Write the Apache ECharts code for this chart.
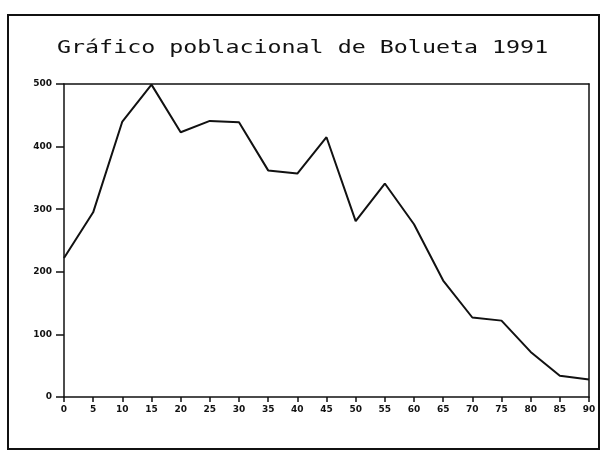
<!DOCTYPE html>
<html><head><meta charset="utf-8">
<script src="https://cdn.jsdelivr.net/npm/echarts@6/dist/echarts.min.js"></script>
<style>html,body{margin:0;padding:0;background:#fff}#c{width:603px;height:456px}</style>
</head><body><div id="c"></div>
<script>
var ages = ['0','5','10','15','20','25','30','35','40','45','50','55','60','65','70','75','80','85','90'];
var population = [222, 295, 440, 499, 423, 441, 439, 362, 357, 415, 281, 341, 276, 186, 127, 122, 72, 34, 28];
var yTicks = [0, 100, 200, 300, 400, 500];
var title = 'Gráfico poblacional de Bolueta 1991';

var chart = echarts.init(document.getElementById('c'), null, {renderer: 'canvas'});
var axisLabelStyle = {color: '#111', fontSize: 9, fontWeight: 'bold', fontFamily: 'DejaVu Sans'};
chart.setOption({
  backgroundColor: '#fff',
  animation: false,
  graphic: [{
    type: 'rect', shape: {x: 8, y: 15, width: 591, height: 434},
    style: {fill: 'none', stroke: '#111', lineWidth: 2}, silent: true
  }, {
    type: 'text', x: 57, y: 57, scaleX: 1.295,
    style: {text: title, fontFamily: 'DejaVu Sans Mono', fontSize: 18, fill: '#111',
            textVerticalAlign: 'bottom', verticalAlign: 'bottom'},
    silent: true
  }],
  grid: {left: 64, right: 14, top: 84, bottom: 59},
  xAxis: [{
    type: 'category', data: ages, boundaryGap: false,
    axisLine: {lineStyle: {color: '#111', width: 1.5}},
    axisTick: {alignWithLabel: true, length: 5, lineStyle: {color: '#111', width: 1.5}},
    axisLabel: Object.assign({margin: 8, interval: 0}, axisLabelStyle)
  }, {
    type: 'category', data: ages, boundaryGap: false, position: 'top',
    axisLine: {show: true, onZero: false, lineStyle: {color: '#111', width: 1.5}},
    axisTick: {show: false}, axisLabel: {show: false}
  }],
  yAxis: [{
    type: 'value', min: yTicks[0], max: yTicks[yTicks.length - 1], interval: 100,
    axisLine: {show: true, lineStyle: {color: '#111', width: 1.5}},
    axisTick: {show: true, length: 8, lineStyle: {color: '#111', width: 1.5}},
    axisLabel: Object.assign({margin: 12}, axisLabelStyle),
    splitLine: {show: false}
  }, {
    type: 'value', min: 0, max: 500, position: 'right',
    axisLine: {show: true, onZero: false, lineStyle: {color: '#111', width: 1.5}},
    axisTick: {show: false}, axisLabel: {show: false}, splitLine: {show: false}
  }],
  series: [{
    type: 'line', data: population, showSymbol: false, symbol: 'none',
    lineStyle: {color: '#111', width: 2}
  }]
});
</script></body></html>
